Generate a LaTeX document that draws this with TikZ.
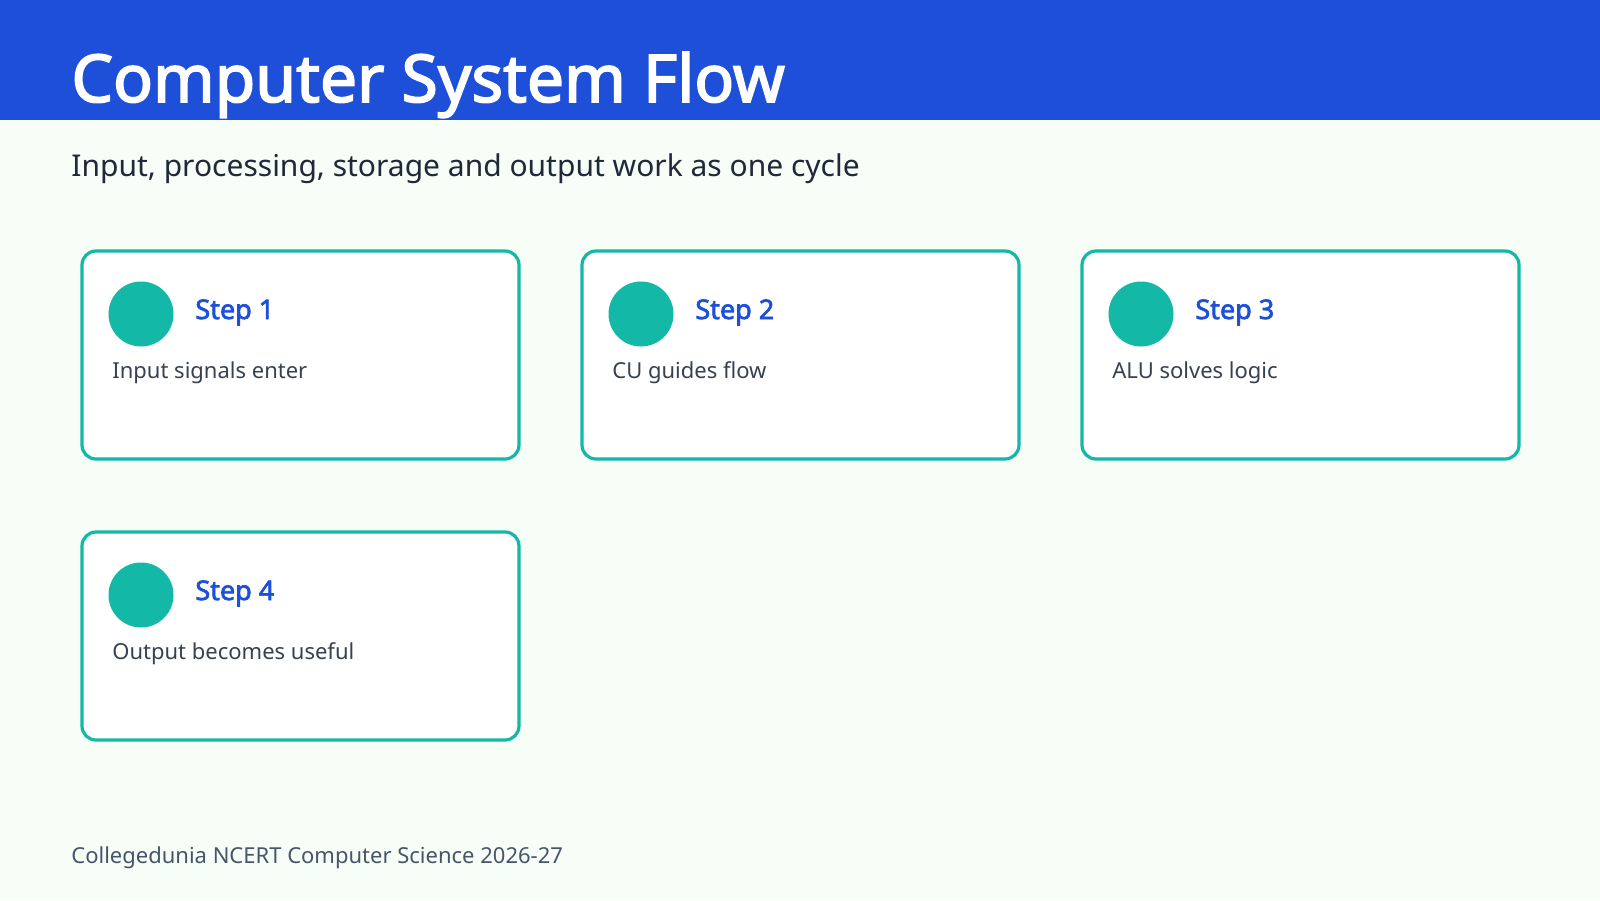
\documentclass[tikz,border=0pt]{standalone}
\usepackage{fontspec}
\setmainfont{Noto Sans}[BoldFont={Noto Sans},BoldFeatures={FakeBold=2.5}]
\definecolor{hdrblue}{HTML}{1E4FD8}
\definecolor{teal}{HTML}{14B8A6}
\definecolor{pagebg}{HTML}{F7FDF7}
\definecolor{inkdark}{HTML}{1F2937}
\definecolor{inkbody}{HTML}{374151}
\definecolor{inkfoot}{HTML}{475569}
\tikzset{
  stepbox/.style={draw=teal,line width=1.6pt,rounded corners=7pt,fill=white},
  stepdot/.style={circle,fill=teal,minimum size=32.5pt,inner sep=0pt},
  steptitle/.style={anchor=base west,font=\fontsize{13.5}{16}\selectfont\bfseries,text=hdrblue,inner sep=0pt},
  stepbody/.style={anchor=base west,font=\fontsize{11}{13}\selectfont,text=inkbody,inner sep=0pt}
}
\begin{document}
\begin{tikzpicture}[x=0.5pt,y=-0.5pt]
\useasboundingbox (0,0) rectangle (1600,900);
\fill[pagebg] (0,0) rectangle (1600,900);
\fill[hdrblue] (0,0) rectangle (1600,120);

\node[anchor=base west,inner sep=0pt,text=white,font=\fontsize{33}{38}\selectfont\bfseries] (title) at (71,102) {Computer System Flow};
\node[anchor=base west,inner sep=0pt,text=inkdark,font=\fontsize{15}{18}\selectfont] (subtitle) at (71,176) {Input, processing, storage and output work as one cycle};

%%%%%%%%%%%%%%%%%%%%%%%%%%%%%%%%%%%%%%

\foreach \i/\x/\y/\txt in {1/82/251/Input signals enter,2/582/251/CU guides flow,3/1082/251/ALU solves logic,4/82/532/Output becomes useful}{
  \draw[stepbox] (\x,\y) rectangle +(437,208);
  \node[stepdot] (dot\i) at (\x+59,\y+63) {};
  \node[steptitle] (step\i) at (\x+113,\y+68) {Step \i};
  \node[stepbody] (body\i) at (\x+30,\y+127) {\txt};
}

%%%%%%%%%%%%%%%%%%%%%%%%%%%%%%%%%%%%%%

\node[anchor=base west,inner sep=0pt,text=inkfoot,font=\fontsize{11}{13}\selectfont] (footer) at (71,863) {Collegedunia NCERT Computer Science 2026-27};

\end{tikzpicture}
\end{document}
